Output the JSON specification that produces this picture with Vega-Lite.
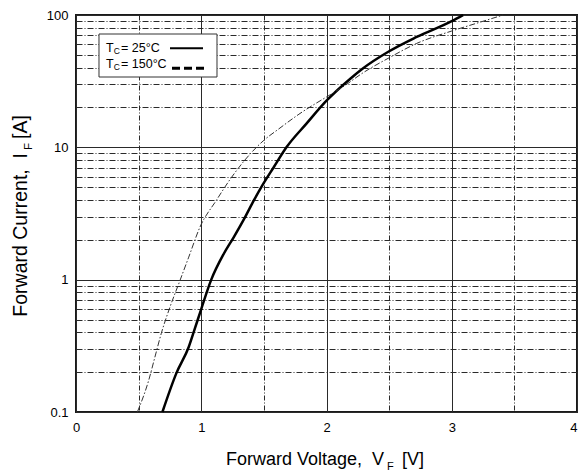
{
  "$schema": "https://vega.github.io/schema/vega-lite/v6.json",
  "width": 501,
  "height": 397,
  "autosize": {"type": "none"},
  "padding": {"left": 76, "top": 15, "right": 2, "bottom": 60},
  "background": "white",
  "config": {
    "view": {"stroke": "#1a1a1a", "strokeWidth": 2},
    "font": "Liberation Sans",
    "text": {"font": "Liberation Sans", "color": "#000"}
  },
  "datasets": {
    "curves": [
      {"series": "25°C", "V": 0.69, "I": 0.1},
      {"series": "25°C", "V": 0.8, "I": 0.195},
      {"series": "25°C", "V": 0.9, "I": 0.31},
      {"series": "25°C", "V": 0.95, "I": 0.43},
      {"series": "25°C", "V": 1.0, "I": 0.6},
      {"series": "25°C", "V": 1.08, "I": 1.0},
      {"series": "25°C", "V": 1.18, "I": 1.57},
      {"series": "25°C", "V": 1.26, "I": 2.1},
      {"series": "25°C", "V": 1.35, "I": 2.97},
      {"series": "25°C", "V": 1.42, "I": 3.97},
      {"series": "25°C", "V": 1.49, "I": 5.2},
      {"series": "25°C", "V": 1.58, "I": 7.1},
      {"series": "25°C", "V": 1.68, "I": 10.0},
      {"series": "25°C", "V": 1.84, "I": 15.1},
      {"series": "25°C", "V": 2.0, "I": 22.5},
      {"series": "25°C", "V": 2.19, "I": 33.0},
      {"series": "25°C", "V": 2.29, "I": 39.4},
      {"series": "25°C", "V": 2.49, "I": 52.5},
      {"series": "25°C", "V": 2.72, "I": 68.2},
      {"series": "25°C", "V": 3.0, "I": 90.0},
      {"series": "25°C", "V": 3.09, "I": 100},
      {"series": "150°C", "V": 0.49, "I": 0.1},
      {"series": "150°C", "V": 0.58, "I": 0.173},
      {"series": "150°C", "V": 0.63, "I": 0.26},
      {"series": "150°C", "V": 0.68, "I": 0.39},
      {"series": "150°C", "V": 0.75, "I": 0.62},
      {"series": "150°C", "V": 0.82, "I": 0.93},
      {"series": "150°C", "V": 0.9, "I": 1.48},
      {"series": "150°C", "V": 0.99, "I": 2.5},
      {"series": "150°C", "V": 1.12, "I": 3.97},
      {"series": "150°C", "V": 1.24, "I": 5.9},
      {"series": "150°C", "V": 1.39, "I": 8.9},
      {"series": "150°C", "V": 1.5, "I": 11.3},
      {"series": "150°C", "V": 1.62, "I": 13.8},
      {"series": "150°C", "V": 1.78, "I": 17.8},
      {"series": "150°C", "V": 2.03, "I": 25.0},
      {"series": "150°C", "V": 2.13, "I": 28.6},
      {"series": "150°C", "V": 2.29, "I": 36.5},
      {"series": "150°C", "V": 2.5, "I": 47.5},
      {"series": "150°C", "V": 2.72, "I": 61.0},
      {"series": "150°C", "V": 3.0, "I": 75.7},
      {"series": "150°C", "V": 3.2, "I": 86.7},
      {"series": "150°C", "V": 3.41, "I": 100}
    ]
  },
  "layer": [
    {
      "data": {"name": "curves"},
      "transform": [{"filter": "datum.series === '25°C'"}],
      "mark": {"type": "line", "color": "#000", "strokeWidth": 2.5, "interpolate": "monotone"},
      "encoding": {
        "x": {
          "field": "V", "type": "quantitative",
          "scale": {"domain": [0, 4], "nice": false, "zero": false},
          "axis": {
            "values": [0, 0.5, 1, 1.5, 2, 2.5, 3, 3.5, 4],
            "title": null, "ticks": false, "domain": false,
            "labelExpr": "datum.value % 1 === 0 ? format(datum.value, 'd') : ''",
            "labelFont": "Liberation Sans", "labelFontSize": 13, "labelColor": "#000",
            "labelPadding": 9, "labelFlush": false, "labelOverlap": false,
            "labelAlign": {"condition": {"test": "datum.value === 4", "value": "right"}, "value": "center"},
            "grid": true, "gridColor": "#2a2a2a", "gridWidth": 1, "gridOpacity": 1,
            "gridDash": {"condition": {"test": "datum.value % 1 !== 0", "value": [5, 2, 1, 2]}, "value": []}
          }
        },
        "y": {
          "field": "I", "type": "quantitative",
          "scale": {"type": "log", "domain": [0.1, 100], "nice": false},
          "axis": {
            "values": [0.1, 0.2, 0.3, 0.4, 0.5, 0.6, 0.7, 0.8, 0.9, 1, 2, 3, 4, 5, 6, 7, 8, 9, 10, 20, 30, 40, 50, 60, 70, 80, 90, 100],
            "title": null, "ticks": false, "domain": false,
            "labelExpr": "abs(log(datum.value) / LN10 - round(log(datum.value) / LN10)) < 0.001 ? '' + datum.value : ''",
            "labelFont": "Liberation Sans", "labelFontSize": 13, "labelColor": "#000",
            "labelPadding": 8, "labelOverlap": false, "labelFlush": false,
            "grid": true, "gridColor": "#2a2a2a", "gridWidth": 1, "gridOpacity": 1,
            "gridDash": {"condition": {"test": "abs(log(datum.value) / LN10 - round(log(datum.value) / LN10)) > 0.001", "value": [6, 2, 1, 2]}, "value": []}
          }
        }
      }
    },
    {
      "data": {"name": "curves"},
      "transform": [{"filter": "datum.series === '150°C'"}],
      "mark": {"type": "line", "color": "#333", "strokeWidth": 1, "strokeDash": [6, 2, 1.5, 2], "interpolate": "monotone"},
      "encoding": {
        "x": {"field": "V", "type": "quantitative"},
        "y": {"field": "I", "type": "quantitative"}
      }
    },
    {
      "data": {"values": [{}]},
      "mark": {"type": "rect", "fill": "white", "stroke": "#333", "strokeWidth": 1},
      "encoding": {
        "x": {"datum": 0.1836, "type": "quantitative"},
        "x2": {"datum": 1.1257},
        "y": {"datum": 71.84, "type": "quantitative"},
        "y2": {"datum": 34.0}
      }
    },
    {
      "data": {"values": [{}]},
      "mark": {"type": "rule", "color": "#000", "strokeWidth": 2},
      "encoding": {
        "x": {"datum": 0.7505, "type": "quantitative"},
        "x2": {"datum": 1.014},
        "y": {"datum": 56.03, "type": "quantitative"}
      }
    },
    {
      "data": {"values": [{}]},
      "mark": {"type": "rule", "color": "#000", "strokeWidth": 3, "strokeDash": [8, 4]},
      "encoding": {
        "x": {"datum": 0.7665, "type": "quantitative"},
        "x2": {"datum": 1.022},
        "y": {"datum": 39.56, "type": "quantitative"}
      }
    },
    {
      "data": {"values": [{"t": "T", "s": "C", "r": "= 25°C"}]},
      "encoding": {
        "x": {"datum": 0.2395, "type": "quantitative"},
        "y": {"datum": 52.54, "type": "quantitative"}
      },
      "layer": [
        {"mark": {"type": "text", "align": "left", "baseline": "alphabetic", "fontSize": 12.5}, "encoding": {"text": {"field": "t"}}},
        {"mark": {"type": "text", "align": "left", "baseline": "alphabetic", "fontSize": 8.5, "dx": 7.8, "dy": 2}, "encoding": {"text": {"field": "s"}}},
        {"mark": {"type": "text", "align": "left", "baseline": "alphabetic", "fontSize": 12.5, "dx": 15}, "encoding": {"text": {"field": "r"}}}
      ]
    },
    {
      "data": {"values": [{"t": "T", "s": "C", "r": "= 150°C"}]},
      "encoding": {
        "x": {"datum": 0.2395, "type": "quantitative"},
        "y": {"datum": 39.77, "type": "quantitative"}
      },
      "layer": [
        {"mark": {"type": "text", "align": "left", "baseline": "alphabetic", "fontSize": 12.5}, "encoding": {"text": {"field": "t"}}},
        {"mark": {"type": "text", "align": "left", "baseline": "alphabetic", "fontSize": 8.5, "dx": 7.8, "dy": 2}, "encoding": {"text": {"field": "s"}}},
        {"mark": {"type": "text", "align": "left", "baseline": "alphabetic", "fontSize": 12.5, "dx": 15}, "encoding": {"text": {"field": "r"}}}
      ]
    },
    {
      "data": {"values": [{"t": "Forward Voltage,\u00a0\u00a0V", "s": "F", "r": "[V]"}]},
      "encoding": {
        "x": {"datum": 2.459, "type": "quantitative"},
        "y": {"datum": 0.03975, "type": "quantitative"}
      },
      "layer": [
        {"mark": {"type": "text", "align": "right", "baseline": "alphabetic", "fontSize": 18}, "encoding": {"text": {"field": "t"}}},
        {"mark": {"type": "text", "align": "left", "baseline": "alphabetic", "fontSize": 11, "dx": 3, "dy": 5}, "encoding": {"text": {"field": "s"}}},
        {"mark": {"type": "text", "align": "left", "baseline": "alphabetic", "fontSize": 18, "dx": 18}, "encoding": {"text": {"field": "r"}}}
      ]
    },
    {
      "data": {"values": [{"t": "Forward Current,\u00a0\u00a0I", "s": "F", "r": "[A]"}]},
      "encoding": {
        "x": {"datum": -0.391, "type": "quantitative"},
        "y": {"datum": 9.06, "type": "quantitative"}
      },
      "layer": [
        {"mark": {"type": "text", "align": "right", "baseline": "alphabetic", "angle": 270, "fontSize": 19.5}, "encoding": {"text": {"field": "t"}}},
        {"mark": {"type": "text", "align": "left", "baseline": "alphabetic", "angle": 270, "fontSize": 11.5, "dx": 3, "dy": 5}, "encoding": {"text": {"field": "s"}}},
        {"mark": {"type": "text", "align": "left", "baseline": "alphabetic", "angle": 270, "fontSize": 19.5, "dx": 14}, "encoding": {"text": {"field": "r"}}}
      ]
    }
  ]
}
